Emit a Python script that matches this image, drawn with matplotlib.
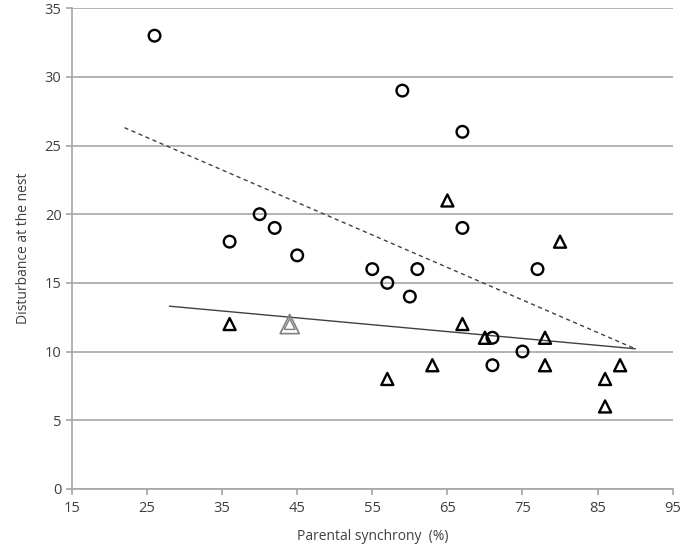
import matplotlib
matplotlib.use("Agg")
import matplotlib.pyplot as plt

# Data
circle_x = [26, 36, 40, 42, 45, 55, 57, 59, 60, 61, 67, 67, 71, 71, 75, 77]
circle_y = [33, 18, 20, 19, 17, 16, 15, 29, 14, 16, 26, 19, 11, 9, 10, 16]

tri_x = [36, 57, 63, 65, 67, 70, 78, 78, 80, 86, 86, 88]
tri_y = [12, 8, 9, 21, 12, 11, 11, 9, 18, 8, 6, 9]

gray_tri_x = [44]
gray_tri_y = [12]

dashed_x = [22, 90]
dashed_y = [26.3, 10.2]
solid_x = [28, 90]
solid_y = [13.3, 10.2]

xticks = [15, 25, 35, 45, 55, 65, 75, 85, 95]
yticks = [0, 5, 10, 15, 20, 25, 30, 35]

plt.rcParams['font.family'] = ['Open Sans', 'DejaVu Sans']

fig = plt.figure(figsize=(6.85, 5.48), dpi=100)
ax = fig.add_axes([0.105, 0.108, 0.877, 0.877])

ax.set_xlim(15, 95)
ax.set_ylim(0, 35)
ax.set_xticks(xticks)
ax.set_yticks(yticks)

ax.grid(axis='y', color='#a6a6a6', linewidth=1.2)
ax.set_axisbelow(True)
for s in ['top', 'right']:
    ax.spines[s].set_visible(False)
for s in ['left', 'bottom']:
    ax.spines[s].set_color('#a6a6a6')
    ax.spines[s].set_linewidth(1.2)
ax.tick_params(axis='both', colors='#a6a6a6', labelcolor='#404040', labelsize=10.5,
               length=4, width=1.2)
ax.tick_params(axis='x', pad=5)

ax.plot(dashed_x, dashed_y, linestyle=(0, (3, 2.5)), color='#404040', linewidth=1.0)
ax.plot(solid_x, solid_y, linestyle='-', color='#404040', linewidth=1.0)

ax.scatter(circle_x, circle_y, marker='o', s=70, facecolors='none', edgecolors='black',
           linewidths=1.7, zorder=3)
ax.scatter(tri_x, tri_y, marker='^', s=75, facecolors='none', edgecolors='black',
           linewidths=1.7, zorder=3)
ax.scatter(gray_tri_x, gray_tri_y, marker='^', s=190, facecolors='none', edgecolors='#7f7f7f',
           linewidths=1.2, zorder=3)
ax.scatter(gray_tri_x, gray_tri_y, marker='^', s=60, facecolors='none', edgecolors='#7f7f7f',
           linewidths=1.0, zorder=3)

ax.set_xlabel('Parental synchrony  (%)', fontsize=10, color='#404040', labelpad=9)
ax.set_ylabel('Disturbance at the nest', fontsize=10, color='#404040', labelpad=10)

fig.savefig('out.png', dpi=100)
